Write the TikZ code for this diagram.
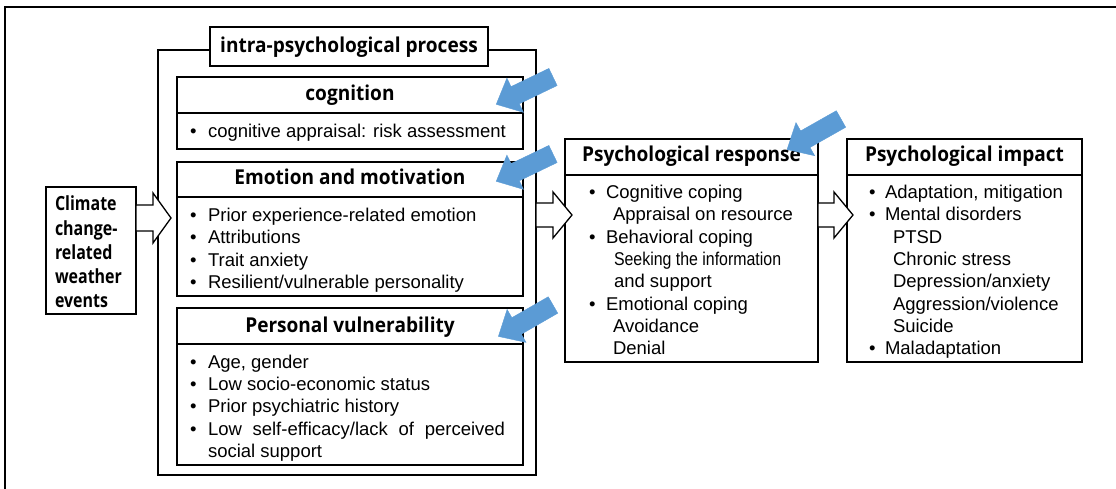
\documentclass[tikz,border=0pt]{standalone}
\usepackage{fontspec}
\usepackage{graphicx}
\setmainfont{Liberation Sans}
\newfontfamily\hdfont{Open Sans}
\definecolor{arrowblue}{HTML}{5B9BD5}
\newcommand{\hd}[1]{\scalebox{0.93}[1]{#1}}
\newcommand{\mybox}[6][]{\node[rbox,#1,minimum width={(#5-#3)*1pt},minimum height={(#6-#4)*1pt}] (#2) at (#3,#4) {};}
\newcommand{\blockarrow}[7]{%
  \draw[#1,shift={#2},rotate=#3] (0,-#5) -- ({#4-#7},-#5) -- ({#4-#7},-#6) -- (#4,0) -- ({#4-#7},#6) -- ({#4-#7},#5) -- (0,#5) -- cycle;}
\tikzset{
  every node/.style={inner sep=0pt,outer sep=0pt},
  frame/.style={draw=black,line width=1.5pt},
  rbox/.style={draw=black,line width=1.6pt,rectangle,anchor=north west},
  item/.style={anchor=base west,font=\fontsize{18.5}{22}\selectfont},
  head/.style={anchor=base,font=\hdfont\bfseries\fontsize{20.5}{22}\selectfont},
  clim/.style={anchor=base west,font=\hdfont\bfseries\fontsize{19.5}{24}\selectfont},
  bluearr/.style={fill=arrowblue,draw=arrowblue,line width=0.4pt},
  whitearr/.style={fill=white,draw=black,line width=1.3pt,line join=miter},
}
\begin{document}
\begin{tikzpicture}[x=1pt,y=-1pt]
\useasboundingbox (0,0) rectangle (1116,489);
% outer frame (cropped)
\draw[frame] (5,489) -- (5,7) -- (1116,7);
% intra-psychological process
\mybox{intra}{158}{50}{536}{475}
\mybox[fill=white]{title}{210}{27}{488}{66}
\node[head] (tt) at (349,53) {\hd{intra-psychological process}};
% cognition
\mybox{cogH}{177}{77}{523}{113}
\mybox{cogB}{177}{113}{523}{149}
\node[head] (cogT) at (350,101) {\hd{cognition}};
\node[item] (cb1) at (190,137.5) {•};
\node[item] (c1) at (208,137.5) {cognitive appraisal: risk assessment};
% emotion
\mybox{emoH}{177}{162}{523}{197}
\mybox{emoB}{177}{197}{523}{296}
\node[head] (emoT) at (350,185) {\hd{Emotion and motivation}};
\foreach \t [count=\i] in {Prior experience-related emotion,Attributions,Trait anxiety,Resilient/vulnerable personality}{
  \node[item] (eb\i) at (190,{221.5+(\i-1)*22.4}) {•};
  \node[item] (e\i) at (208,{221.5+(\i-1)*22.4}) {\t};
}
% personal
\mybox{perH}{177}{308}{523}{344}
\mybox{perB}{177}{344}{523}{465}
\node[head] (perT) at (350,332) {\hd{Personal vulnerability}};
\foreach \t [count=\i] in {{Age, gender},Low socio-economic status,Prior psychiatric history}{
  \node[item] (pb\i) at (190,{368.5+(\i-1)*22.2}) {•};
  \node[item] (p\i) at (208,{368.5+(\i-1)*22.2}) {\t};
}
\node[item] (pb4) at (190,435.1) {•};
\node[item] (p4) at (208,435.1) {\makebox[297pt][s]{Low self-efficacy/lack of perceived}};
\node[item] (p5) at (208,457.3) {social support};
% climate
\mybox{climate}{46}{187}{136}{314}
\foreach \t [count=\i] in {Climate,change-,related,weather,events}{
  \node[clim] (cl\i) at (55,{211+(\i-1)*24}) {\scalebox{0.82}[1]{\t}};
}
% psychological response
\mybox{resH}{565}{139}{818}{175}
\mybox{resB}{565}{175}{818}{362}
\node[head] (resT) at (691.5,162) {\hd{Psychological response}};
\node[item] (rb1) at (589,198.5) {•};
\node[item] (r1) at (606,198.5) {Cognitive coping};
\node[item] (r2) at (613,220.8) {Appraisal on resource};
\node[item] (rb3) at (589,243.1) {•};
\node[item] (r3) at (606,243.1) {Behavioral coping};
\node[item] (r4) at (614,265.4) {\scalebox{0.86}[1]{Seeking the information}};
\node[item] (r5) at (614,287.7) {and support};
\node[item] (rb6) at (589,310) {•};
\node[item] (r6) at (606,310) {Emotional coping};
\node[item] (r7) at (613,332.3) {Avoidance};
\node[item] (r8) at (613,354.6) {Denial};
% psychological impact
\mybox{impH}{847}{139}{1082}{175}
\mybox{impB}{847}{175}{1082}{362}
\node[head] (impT) at (964.5,162) {\hd{Psychological impact}};
\node[item] (ib1) at (869,198.5) {•};
\node[item] (i1) at (885,198.5) {Adaptation, mitigation};
\node[item] (ib2) at (869,220.8) {•};
\node[item] (i2) at (885,220.8) {Mental disorders};
\foreach \t [count=\i from 3] in {PTSD,Chronic stress,Depression/anxiety,Aggression/violence,Suicide}{
  \node[item] (i\i) at (893,{243.1+(\i-3)*22.3}) {\t};
}
\node[item] (ib8) at (869,354.6) {•};
\node[item] (i8) at (885,354.6) {Maladaptation};
% white block arrows
\blockarrow{whitearr}{(climate.east |- 0,218)}{0}{35}{13}{25}{18}
\blockarrow{whitearr}{(intra.east |- 0,215)}{0}{36}{12}{23}{19}
\blockarrow{whitearr}{(resB.east |- 0,215)}{0}{35}{12}{23}{19}
% blue arrows
\blockarrow{bluearr}{(553,77)}{205.7}{63}{9.5}{19}{21}
\blockarrow{bluearr}{(553,154)}{205.7}{63}{9.5}{19}{21}
\blockarrow{bluearr}{(553,305)}{209.9}{63}{9.5}{19}{21}
\blockarrow{bluearr}{(841,119)}{209.5}{62}{9.5}{19}{21}
\end{tikzpicture}
\end{document}
